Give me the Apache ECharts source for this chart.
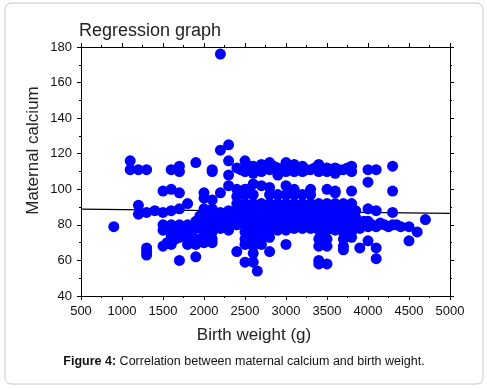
<!DOCTYPE html>
<html>
<head>
<meta charset="utf-8">
<script src="https://cdn.jsdelivr.net/npm/echarts@6/dist/echarts.min.js"></script>
<style>html,body{margin:0;padding:0;background:#fff}#c{width:487px;height:389px}</style>
</head>
<body>
<div id="c"></div>
<script>
var titleText = 'Regression graph';
var xName = 'Birth weight (g)';
var yName = 'Maternal calcium';
var captionBold = 'Figure 4:';
var captionRest = ' Correlation between maternal calcium and birth weight.';
var xTicks = [500, 5000, 500];
var yTicks = [40, 180, 20];
var regressionLine = [[500, 88.8], [5000, 86.5]];

var outliers = [[2200,176],[900,79]];
var leftGroup = [
 [1100,116],[1100,111],[1200,111],[1300,111],[1200,91],[1200,86],[1300,87],[1400,88],[1500,87],[1600,88],[1700,89],
 [1300,67],[1300,65],[1300,63],[1500,99],[1600,100],[1700,98],[1800,92],[1600,111],[1700,113],[1700,110],[1900,115],
 [2100,111],[2100,110],[2200,122],[2300,125],
 [1500,80],[1500,77],[1600,80],[1600,77],[1700,80],[1700,76],[1800,80],[1800,76],[1900,82],[1900,78],
 [1550,78],[1650,78],[1750,78],[1850,78],[1950,80],[2050,78],[2050,82],[1950,85],
 [1600,74],[1700,73],[1800,72],[1500,68],[1600,69],[1800,69],[1900,69],[2000,70],[2100,72],[2100,70],[1700,60],[1900,62],
 [1550,70],[1650,72],[1750,74],[1850,74],[1950,72],[2050,73],
 [2000,98],[2000,95],[2100,94],[2000,89],[2100,89],[2000,85],[2100,85],[2000,80],[2100,80],[2000,76],[2100,76],
 [2200,98],[2200,87],[2200,82],[2200,78],[2150,80],[2250,84]
];
var upperBand = [
 [2300,116],[2400,112],[2500,116],[2500,110],[2600,113],[2600,109],[2700,114],[2700,110],[2800,115],[2800,111],
 [2900,112],[2900,108],[3000,115],[3000,110],[3100,114],[3100,110],[3200,113],[3200,110],[3300,111],[3400,114],
 [3400,110],[3500,112],[3500,110],[3600,112],[3600,109],[3700,111],[3800,113],[3800,110],
 [2450,111],[2550,113],[2650,111],[2750,112],[2850,113],[2950,111],[3050,112],[3150,112],[3250,111],[3350,112],[3450,111],[3550,111],[3650,111],[3750,112]
];
var coreCluster = [
 [2300,108],[2300,102],[2300,88],[2300,84],[2300,80],[2300,77],[2400,100],[2400,96],[2400,92],[2400,88],[2400,84],[2400,80],
 [2500,100],[2600,103],[2700,102],[2800,101],[3000,102],[3100,100],[3300,100],[3500,100],[3600,98],
 [2500,97],[2600,97],[2800,97],[2900,97],[3000,97],[3100,97],[3200,97],[3300,97],[2550,100],[2450,98],
 [2500,92],[2600,92],[2700,92],[2800,92],[2900,92],[3000,92],[3100,92],[3200,92],[3300,92],[3400,92],[3500,92],[3600,92],[3700,92],[3800,92],
 [2550,90],[2650,90],[2750,90],[2850,90],[2950,90],[3050,90],[3150,90],[3250,90],[3350,90],[3450,90],[3550,90],[3650,90],[3750,90],
 [2500,88],[2600,88],[2700,88],[2800,88],[2900,88],[3000,88],[3100,88],[3200,88],[3300,88],[3400,88],[3500,88],[3600,88],[3700,88],[3800,88],
 [2550,86],[2650,86],[2750,86],[2850,86],[2950,86],[3050,86],[3150,86],[3250,86],[3350,86],[3450,86],[3550,86],[3650,86],[3750,86],
 [2500,84],[2600,84],[2700,84],[2800,84],[2900,84],[3000,84],[3100,84],[3200,84],[3300,84],[3400,84],[3500,84],[3600,84],[3700,84],[3800,84],
 [2550,82],[2650,82],[2750,82],[2850,82],[2950,82],[3050,82],[3150,82],[3250,82],[3350,82],[3450,82],[3550,82],[3650,82],[3750,82],
 [2500,80],[2600,80],[2700,80],[2800,80],[2900,80],[3000,80],[3100,80],[3200,80],[3300,80],[3400,80],[3500,80],[3600,80],[3700,80],[3800,80],
 [2550,78],[2650,78],[2750,78],[2850,78],[2950,79],[3050,79],[3150,80],[3250,80],[3350,79],[3450,78],[3550,78],[3650,78],[3750,78],
 [2500,76],[2600,76],[2700,76],[2800,76],[2900,77],[3000,77],[3100,78],[3200,78],[3300,78],[3400,77],[3500,77],[3600,77],[3700,76],[3800,76],
 [2550,74],[2650,74],[2750,74],[3450,74],[3750,74],
 [2500,72],[2600,72],[2700,72],[2800,73],[3400,72],[3500,72],[3700,72],[3800,73],
 [2550,70],[2650,70],[2500,69],[2600,68],[2700,69],[3400,68],[3500,68],[3700,68]
];
var lowerPoints = [
 [2400,65],[2600,64],[2800,65],[3000,69],[2500,59],[2600,59],[2650,54],[3400,60],[3400,58],[3500,58],[3700,66],[3900,67]
];
var rightGroup = [
 [3900,78],[3900,80],[4000,111],[4100,111],[4000,104],[4000,89],[4100,88],[4000,82],[4000,79],[4100,79],[4200,80],[4300,80],
 [4400,79],[4500,79],[4000,71],[4100,67],[4100,61],[4300,113],[4300,99],[4300,87],[4500,71],[4600,76],[4700,83],[3800,99],[3600,99],
 [3950,82],[4050,80],[4150,81],[4250,79],[4350,80],[3850,80],[3850,84],[3850,88]
];

var points = [].concat(outliers, leftGroup, upperBand, coreCluster, lowerPoints, rightGroup);

var axisCommon = {
  type: 'value',
  axisLine: {show: true, onZero: false, lineStyle: {color: '#000', width: 1}},
  axisTick: {show: true, length: 4, lineStyle: {color: '#000'}},
  minorTick: {show: true, splitNumber: 2, length: 2, lineStyle: {color: '#000'}},
  splitLine: {show: false},
  minorSplitLine: {show: false}
};
function ax(extra) { return Object.assign({}, axisCommon, extra); }
function plain(v) { return String(v); }

var chart = echarts.init(document.getElementById('c'));
chart.setOption({
  animation: false,
  backgroundColor: '#fff',
  title: {text: titleText, left: 79, top: 22, padding: 0, textStyle: {fontSize: 18, fontWeight: 'normal', color: '#222', fontFamily: 'Liberation Sans'}},
  grid: {left: 81, right: 37, top: 47, bottom: 93},
  xAxis: [
    ax({position: 'bottom', min: xTicks[0], max: xTicks[1], interval: xTicks[2],
        axisLabel: {color: '#111', fontSize: 13, margin: 9, fontFamily: 'Liberation Sans', formatter: plain}}),
    ax({position: 'top', min: xTicks[0], max: xTicks[1], interval: xTicks[2], axisLabel: {show: false}})
  ],
  yAxis: [
    ax({position: 'left', min: yTicks[0], max: yTicks[1], interval: yTicks[2],
        axisLabel: {color: '#111', fontSize: 13, margin: 9, fontFamily: 'Liberation Sans', formatter: plain}}),
    ax({position: 'right', min: yTicks[0], max: yTicks[1], interval: yTicks[2], axisLabel: {show: false}})
  ],
  series: [
    {type: 'line', data: regressionLine, symbol: 'none', z: 1, lineStyle: {color: '#000', width: 1.2}},
    {type: 'scatter', data: points, symbol: 'circle', symbolSize: 11, z: 2, large: false, itemStyle: {color: '#0000ff', opacity: 1, borderWidth: 0}}
  ],
  graphic: [
    {type: 'rect', shape: {x: 5, y: 3, width: 478, height: 381, r: 6}, style: {fill: 'none', stroke: '#c8c8c8', lineWidth: 1}, z: -1},
    {type: 'text', x: 33.5, y: 150.5, rotation: Math.PI / 2,
     style: {text: yName, fontSize: 17, fill: '#222', align: 'center', verticalAlign: 'middle', fontFamily: 'Liberation Sans'}},
    {type: 'text', x: 254, y: 335,
     style: {text: xName, fontSize: 17, fill: '#222', align: 'center', verticalAlign: 'middle', fontFamily: 'Liberation Sans'}},
    {type: 'text', x: 244, y: 362,
     style: {rich: {b: {fontWeight: 'bold', fontSize: 12.5, fill: '#111', fontFamily: 'Liberation Sans'},
                    n: {fontSize: 12.5, fill: '#111', fontFamily: 'Liberation Sans'}},
             text: '{b|' + captionBold + '}{n|' + captionRest + '}', align: 'center', verticalAlign: 'middle'}}
  ]
});
</script>
</body>
</html>
